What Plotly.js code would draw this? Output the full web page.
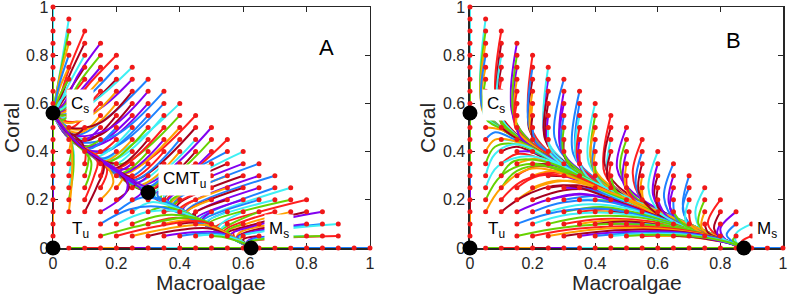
<!DOCTYPE html>
<html><head><meta charset="utf-8">
<script src="https://cdn.plot.ly/plotly-3.0.1.min.js"></script>
<style>html,body{margin:0;padding:0;background:#fff}#chart{width:789px;height:298px}</style>
</head><body><div id="chart"></div>
<script>
// Trajectories: [M0,C0, M1,C1, ..., Mend,Cend]
const trajA = [
[.05,.95,.025,.75,.006,.61,0,.56],
[.05,.9,.022,.72,.005,.6,0,.56],[.1,.9,.05,.74,.015,.6,0,.56],
[.05,.85,.02,.7,.005,.595,0,.56],[.1,.85,.05,.71,.015,.59,0,.56],[.15,.85,.08,.72,.03,.59,0,.56],
[.05,.8,.02,.68,.005,.59,0,.56],[.1,.8,.05,.68,.015,.585,0,.56],[.15,.8,.09,.7,.03,.58,0,.56],[.2,.8,.12,.69,.04,.57,0,.56],
[.05,.75,.02,.66,.005,.585,0,.56],[.1,.75,.05,.65,.015,.58,0,.56],[.15,.75,.085,.65,.03,.57,0,.56],[.2,.75,.12,.64,.04,.555,0,.56],[.25,.75,.15,.63,.05,.54,0,.56],
[.05,.7,.02,.63,.005,.58,0,.56],[.1,.7,.05,.62,.015,.575,0,.56],[.15,.7,.085,.61,.03,.56,0,.56],[.2,.7,.12,.6,.04,.54,0,.56],[.25,.7,.15,.58,.05,.52,0,.56],[.3,.7,.17,.54,.07,.47,0,.56],
[.05,.65,.02,.605,.005,.57,0,.56],[.1,.65,.05,.59,.015,.565,0,.56],[.15,.65,.085,.57,.03,.55,0,.56],[.2,.65,.12,.55,.04,.52,0,.56],[.25,.65,.15,.52,.05,.5,0,.56],[.3,.65,.17,.49,.06,.47,0,.56],[.35,.65,.2,.47,.08,.44,.03,.5,0,.56],
[.05,.6,.025,.575,.008,.565,0,.56],[.1,.6,.06,.56,.02,.55,0,.56],[.15,.6,.09,.53,.03,.53,0,.56],[.2,.6,.12,.5,.04,.5,0,.56],[.25,.6,.15,.47,.06,.46,0,.56],[.3,.6,.18,.45,.1,.42,.03,.5,0,.56],[.35,.6,.21,.43,.12,.4,.03,.5,0,.56],[.4,.6,.25,.43,.15,.37,.04,.48,0,.56],
[.05,.55,.03,.53,.01,.545,0,.56],[.1,.55,.06,.5,.02,.52,0,.56],[.15,.55,.09,.48,.03,.5,0,.56],[.2,.55,.12,.45,.05,.46,.015,.52,0,.56],[.25,.55,.14,.43,.08,.43,.02,.51,0,.56],[.3,.55,.17,.4,.1,.41,.03,.5,0,.56],[.35,.55,.2,.37,.12,.39,.03,.5,0,.56],[.4,.55,.22,.35,.13,.38,.03,.5,0,.56],[.45,.55,.25,.33,.15,.36,.04,.48,0,.56],
[.05,.5,.025,.51,.008,.54,0,.56],[.1,.5,.07,.47,.03,.49,0,.56],[.15,.5,.09,.44,.04,.47,0,.56],[.2,.5,.11,.41,.04,.47,0,.56],[.25,.5,.14,.38,.08,.43,.02,.51,0,.56],[.3,.5,.17,.355,.1,.41,.03,.5,0,.56],[.35,.5,.2,.33,.12,.39,.03,.5,0,.56],[.4,.5,.22,.305,.13,.38,.03,.5,0,.56],[.45,.5,.25,.28,.15,.36,.04,.48,0,.56],[.5,.5,.28,.26,.16,.35,.04,.48,0,.56],
[.05,.45,.05,.49,.02,.53,0,.56],[.1,.45,.07,.46,.03,.5,0,.56],[.15,.45,.1,.42,.04,.47,0,.56],[.2,.45,.13,.39,.05,.46,0,.56],[.25,.45,.16,.36,.08,.43,.02,.51,0,.56],[.3,.45,.19,.33,.1,.41,.03,.5,0,.56],[.35,.45,.22,.31,.12,.39,.03,.5,0,.56],[.4,.45,.25,.28,.14,.37,.04,.48,0,.56],[.45,.45,.27,.26,.16,.35,.04,.48,0,.56],[.5,.45,.3,.24,.18,.33,.05,.47,0,.56],[.55,.45,.32,.23,.2,.32,.05,.47,0,.56],
[.05,.4,.055,.47,.025,.52,0,.56],[.1,.4,.09,.44,.03,.5,0,.56],[.15,.4,.1,.41,.04,.47,0,.56],[.2,.4,.15,.37,.06,.45,0,.56],[.25,.4,.18,.34,.09,.42,.02,.51,0,.56],[.3,.4,.21,.31,.11,.4,.03,.5,0,.56],[.35,.4,.24,.285,.13,.38,.03,.5,0,.56],[.4,.4,.27,.26,.15,.36,.04,.48,0,.56],[.45,.4,.3,.24,.18,.33,.05,.47,0,.56],[.5,.4,.32,.23,.2,.32,.05,.47,0,.56],[.55,.4,.35,.22,.42,.15,.52,.07,.625,0],[.6,.4,.37,.21,.44,.13,.54,.06,.625,0],
[.05,.35,.06,.45,.03,.51,0,.56],[.1,.35,.1,.41,.04,.48,0,.56],[.15,.35,.14,.38,.05,.46,0,.56],[.2,.35,.16,.36,.06,.45,0,.56],[.25,.35,.2,.32,.1,.41,.03,.5,0,.56],[.3,.35,.23,.29,.12,.39,.03,.5,0,.56],[.35,.35,.26,.27,.14,.37,.04,.48,0,.56],[.4,.35,.29,.245,.17,.34,.05,.47,0,.56],[.45,.35,.31,.225,.4,.16,.52,.07,.625,0],[.5,.35,.33,.22,.42,.15,.53,.065,.625,0],[.55,.35,.35,.2,.43,.14,.53,.065,.625,0],[.6,.35,.36,.19,.44,.13,.54,.06,.625,0],[.65,.35,.38,.18,.45,.12,.54,.06,.625,0],
[.05,.3,.06,.42,.035,.5,0,.56],[.1,.3,.11,.39,.05,.46,0,.56],[.15,.3,.155,.36,.06,.45,0,.56],[.2,.3,.2,.32,.1,.41,.03,.5,0,.56],[.25,.3,.22,.3,.1,.41,.03,.5,0,.56],[.3,.3,.26,.27,.13,.38,.03,.5,0,.56],[.35,.3,.29,.25,.17,.34,.05,.47,0,.56],[.4,.3,.32,.22,.41,.155,.52,.07,.625,0],[.45,.3,.34,.21,.42,.15,.53,.065,.625,0],[.5,.3,.36,.2,.44,.13,.54,.06,.625,0],[.55,.3,.37,.18,.45,.12,.54,.06,.625,0],[.6,.3,.39,.17,.46,.115,.55,.055,.625,0],[.65,.3,.41,.16,.47,.11,.55,.055,.625,0],[.7,.3,.42,.15,.48,.1,.56,.05,.625,0],
[.05,.25,.065,.4,.04,.49,0,.56],[.1,.25,.12,.36,.06,.45,0,.56],[.15,.25,.17,.33,.1,.41,.03,.5,0,.56],[.2,.25,.22,.3,.11,.4,.03,.5,0,.56],[.25,.25,.26,.27,.13,.38,.03,.5,0,.56],[.3,.25,.29,.255,.15,.36,.04,.48,0,.56],[.35,.25,.33,.22,.42,.15,.53,.065,.625,0],[.4,.25,.35,.21,.43,.14,.53,.065,.625,0],[.45,.25,.37,.19,.44,.13,.54,.06,.625,0],[.5,.25,.38,.17,.45,.12,.54,.06,.625,0],[.55,.25,.4,.155,.46,.11,.55,.055,.625,0],[.6,.25,.42,.145,.47,.105,.55,.055,.625,0],[.65,.25,.44,.135,.48,.1,.56,.05,.625,0],[.7,.25,.46,.115,.49,.09,.56,.05,.625,0],[.75,.25,.47,.11,.5,.085,.56,.05,.625,0],
[.05,.2,.065,.35,.05,.47,0,.56],[.1,.2,.13,.3,.14,.36,.06,.455,0,.56],[.15,.2,.19,.27,.17,.34,.07,.44,0,.56],[.2,.2,.24,.25,.2,.32,.07,.44,0,.56],[.25,.2,.28,.235,.22,.3,.08,.43,0,.56],[.3,.2,.32,.21,.4,.16,.5,.085,.625,0],[.35,.2,.35,.19,.43,.14,.53,.065,.625,0],[.4,.2,.38,.175,.45,.12,.54,.06,.625,0],[.45,.2,.4,.16,.46,.11,.55,.055,.625,0],[.5,.2,.42,.145,.47,.105,.55,.055,.625,0],[.55,.2,.44,.135,.48,.095,.56,.05,.625,0],[.6,.2,.45,.12,.49,.09,.56,.05,.625,0],[.65,.2,.47,.11,.5,.085,.56,.05,.625,0],[.7,.2,.48,.105,.51,.08,.57,.04,.625,0],[.75,.2,.49,.1,.52,.075,.57,.04,.625,0],[.8,.2,.51,.085,.53,.07,.57,.04,.625,0],
[.05,.15,.06,.3,.055,.45,.03,.51,0,.56],[.1,.15,.14,.26,.16,.34,.07,.44,0,.56],[.15,.15,.23,.23,.23,.29,.08,.43,0,.56],[.2,.15,.28,.21,.36,.19,.48,.1,.625,0],[.25,.15,.31,.19,.4,.16,.5,.085,.625,0],[.3,.15,.35,.17,.43,.14,.53,.065,.625,0],[.35,.15,.4,.155,.46,.12,.54,.06,.625,0],[.4,.15,.43,.14,.48,.1,.55,.055,.625,0],[.45,.15,.45,.125,.5,.09,.56,.05,.625,0],[.5,.15,.47,.115,.51,.085,.57,.045,.625,0],[.55,.15,.49,.11,.52,.08,.57,.04,.625,0],[.6,.15,.53,.1,.52,.07,.57,.04,.625,0],[.65,.15,.57,.105,.53,.07,.58,.035,.625,0],[.7,.15,.6,.11,.54,.07,.58,.035,.625,0],[.75,.15,.62,.105,.545,.065,.585,.033,.625,0],[.8,.15,.64,.1,.55,.06,.59,.03,.625,0],[.85,.15,.66,.1,.56,.055,.59,.03,.625,0],
[.15,.1,.24,.16,.34,.17,.47,.1,.625,0],[.2,.1,.3,.15,.4,.15,.5,.09,.625,0],[.25,.1,.34,.135,.43,.13,.52,.08,.625,0],[.3,.1,.38,.125,.46,.11,.54,.06,.625,0],[.35,.1,.42,.115,.48,.1,.55,.055,.625,0],[.4,.1,.46,.105,.5,.09,.56,.05,.625,0],[.45,.1,.49,.095,.53,.07,.57,.04,.625,0],[.5,.1,.51,.085,.55,.06,.58,.035,.625,0],[.55,.1,.53,.075,.56,.05,.59,.03,.625,0],[.6,.1,.55,.07,.57,.045,.6,.025,.625,0],[.65,.1,.57,.065,.575,.04,.6,.02,.625,0],[.7,.1,.59,.065,.58,.04,.6,.02,.625,0],[.75,.1,.61,.066,.58,.042,.6,.02,.625,0],[.8,.1,.63,.067,.58,.044,.6,.022,.625,0],[.85,.1,.65,.068,.585,.045,.6,.022,.625,0],[.9,.1,.67,.07,.59,.046,.605,.022,.625,0],
[.15,.05,.3,.1,.45,.125,.55,.06,.625,0],[.2,.05,.33,.09,.47,.11,.56,.05,.625,0],[.25,.05,.36,.08,.48,.095,.57,.045,.625,0],[.3,.05,.4,.075,.5,.08,.57,.04,.625,0],[.35,.05,.44,.065,.52,.065,.58,.035,.625,0],[.4,.05,.47,.06,.54,.055,.59,.03,.625,0],[.45,.05,.5,.055,.56,.045,.6,.025,.625,0],[.5,.05,.54,.045,.58,.03,.61,.015,.625,0],[.55,.05,.57,.04,.6,.02,.625,0],[.6,.05,.59,.035,.61,.015,.625,0],[.65,.05,.6,.035,.61,.015,.625,0],[.7,.05,.62,.035,.61,.017,.625,0],[.75,.05,.63,.036,.61,.018,.625,0],[.8,.05,.65,.037,.61,.019,.625,0],[.85,.05,.67,.038,.61,.02,.625,0],[.9,.05,.7,.04,.61,.02,.625,0]
];
const trajB = [
[.05,.95,.04,.6,.1,.5,.35,.315,.875,0],
[.05,.9,.04,.59,.1,.5,.35,.313,.875,0],[.1,.9,.085,.6,.15,.47,.4,.28,.875,0],
[.05,.85,.04,.58,.1,.5,.35,.312,.875,0],[.1,.85,.09,.58,.15,.468,.4,.279,.875,0],[.15,.85,.135,.56,.2,.435,.45,.244,.875,0],
[.05,.8,.04,.58,.1,.498,.35,.312,.875,0],[.1,.8,.09,.57,.15,.466,.4,.278,.875,0],[.15,.8,.14,.55,.2,.432,.45,.243,.875,0],[.2,.8,.19,.52,.25,.4,.5,.208,.875,0],
[.05,.75,.04,.57,.1,.497,.35,.311,.875,0],[.1,.75,.09,.56,.15,.465,.4,.277,.875,0],[.15,.75,.14,.53,.2,.43,.45,.242,.875,0],[.2,.75,.19,.5,.25,.397,.5,.207,.875,0],[.25,.75,.24,.47,.3,.362,.55,.177,.875,0],
[.05,.7,.045,.57,.1,.496,.35,.311,.875,0],[.1,.7,.095,.55,.15,.464,.4,.277,.875,0],[.15,.7,.145,.52,.2,.43,.45,.242,.875,0],[.2,.7,.19,.49,.25,.395,.5,.207,.875,0],[.25,.7,.24,.46,.3,.36,.55,.177,.875,0],[.3,.7,.27,.46,.32,.355,.6,.147,.875,0],
[.05,.65,.045,.56,.1,.495,.35,.31,.875,0],[.1,.65,.095,.54,.15,.463,.4,.276,.875,0],[.15,.65,.145,.51,.2,.428,.45,.241,.875,0],[.2,.65,.195,.48,.25,.394,.5,.206,.875,0],[.25,.65,.24,.45,.3,.358,.55,.176,.875,0],[.3,.65,.29,.42,.35,.323,.6,.146,.875,0],[.35,.65,.33,.39,.4,.29,.65,.116,.875,0],
[.05,.6,.045,.55,.1,.494,.35,.31,.875,0],[.1,.6,.095,.53,.15,.462,.4,.276,.875,0],[.15,.6,.145,.5,.2,.427,.45,.241,.875,0],[.2,.6,.2,.47,.25,.393,.5,.206,.875,0],[.25,.6,.245,.44,.3,.357,.55,.176,.875,0],[.3,.6,.29,.41,.35,.322,.6,.146,.875,0],[.35,.6,.34,.38,.4,.288,.65,.116,.875,0],[.4,.6,.38,.35,.45,.253,.7,.091,.875,0],
[.05,.55,.055,.53,.1,.493,.35,.31,.875,0],[.1,.55,.1,.515,.15,.461,.4,.275,.875,0],[.15,.55,.15,.49,.2,.426,.45,.24,.875,0],[.2,.55,.2,.46,.25,.392,.5,.205,.875,0],[.25,.55,.25,.43,.3,.356,.55,.175,.875,0],[.3,.55,.295,.4,.35,.321,.6,.145,.875,0],[.35,.55,.34,.37,.4,.287,.65,.115,.875,0],[.4,.55,.39,.34,.45,.252,.7,.09,.875,0],[.45,.55,.43,.31,.5,.218,.75,.065,.875,0],
[.05,.5,.1,.49,.2,.415,.45,.238,.875,0],[.1,.5,.13,.47,.2,.418,.45,.239,.875,0],[.15,.5,.16,.46,.22,.4,.5,.205,.875,0],[.2,.5,.21,.44,.26,.39,.5,.206,.875,0],[.25,.5,.255,.42,.3,.355,.55,.175,.875,0],[.3,.5,.3,.39,.35,.32,.6,.145,.875,0],[.35,.5,.345,.36,.4,.286,.65,.115,.875,0],[.4,.5,.385,.38,.42,.29,.7,.09,.875,0],[.45,.5,.43,.35,.47,.26,.72,.08,.875,0],[.5,.5,.47,.33,.52,.23,.75,.065,.875,0],
[.05,.45,.08,.48,.15,.445,.45,.236,.875,0],[.1,.45,.15,.44,.25,.37,.5,.2,.875,0],[.15,.45,.2,.415,.3,.345,.55,.172,.875,0],[.2,.45,.22,.42,.3,.348,.6,.143,.875,0],[.25,.45,.26,.39,.32,.335,.6,.144,.875,0],[.3,.45,.305,.37,.36,.31,.65,.114,.875,0],[.35,.45,.35,.34,.4,.28,.65,.115,.875,0],[.4,.45,.395,.32,.44,.25,.7,.09,.875,0],[.45,.45,.44,.3,.49,.22,.72,.08,.875,0],[.5,.45,.48,.33,.52,.22,.75,.065,.875,0],[.55,.45,.52,.31,.55,.2,.77,.055,.875,0],
[.05,.4,.08,.45,.15,.44,.4,.265,.875,0],[.1,.4,.15,.42,.25,.365,.5,.198,.875,0],[.15,.4,.22,.395,.35,.3,.6,.138,.875,0],[.2,.4,.27,.36,.4,.265,.65,.108,.875,0],[.25,.4,.29,.35,.4,.268,.65,.11,.875,0],[.3,.4,.32,.34,.42,.258,.7,.087,.875,0],[.35,.4,.36,.32,.45,.24,.7,.088,.875,0],[.4,.4,.4,.3,.47,.23,.72,.08,.875,0],[.45,.4,.44,.29,.5,.21,.75,.065,.875,0],[.5,.4,.49,.27,.54,.19,.77,.055,.875,0],[.55,.4,.53,.26,.57,.17,.78,.05,.875,0],[.6,.4,.57,.25,.6,.16,.8,.04,.875,0],
[.05,.35,.08,.42,.15,.43,.4,.262,.875,0],[.1,.35,.15,.39,.25,.36,.5,.197,.875,0],[.15,.35,.22,.37,.35,.295,.6,.136,.875,0],[.2,.35,.28,.34,.4,.262,.65,.106,.875,0],[.25,.35,.32,.32,.45,.232,.7,.083,.875,0],[.3,.35,.36,.3,.5,.2,.7,.084,.875,0],[.35,.35,.38,.29,.5,.202,.72,.077,.875,0],[.4,.35,.41,.28,.52,.19,.75,.063,.875,0],[.45,.35,.45,.26,.55,.175,.75,.064,.875,0],[.5,.35,.5,.24,.57,.16,.77,.055,.875,0],[.55,.35,.54,.23,.6,.145,.8,.04,.875,0],[.6,.35,.585,.22,.63,.13,.8,.04,.875,0],[.65,.35,.62,.21,.66,.11,.81,.035,.875,0],
[.05,.3,.08,.39,.15,.43,.35,.3,.875,0],[.1,.3,.14,.36,.25,.355,.5,.195,.875,0],[.15,.3,.22,.34,.35,.29,.6,.135,.875,0],[.2,.3,.28,.32,.4,.258,.65,.105,.875,0],[.25,.3,.34,.29,.45,.228,.7,.082,.875,0],[.3,.3,.38,.265,.5,.196,.72,.075,.875,0],[.35,.3,.42,.25,.55,.168,.75,.062,.875,0],[.4,.3,.44,.24,.55,.17,.75,.062,.875,0],[.45,.3,.47,.23,.57,.16,.77,.054,.875,0],[.5,.3,.51,.215,.6,.145,.78,.05,.875,0],[.55,.3,.55,.2,.62,.13,.8,.04,.875,0],[.6,.3,.59,.21,.64,.125,.8,.04,.875,0],[.65,.3,.635,.19,.67,.11,.81,.035,.875,0],[.7,.3,.68,.18,.7,.1,.82,.03,.875,0],
[.05,.25,.09,.34,.2,.38,.45,.23,.875,0],[.1,.25,.15,.32,.25,.34,.5,.192,.875,0],[.15,.25,.22,.3,.35,.285,.6,.133,.875,0],[.2,.25,.28,.28,.4,.252,.65,.103,.875,0],[.25,.25,.34,.26,.45,.222,.7,.08,.875,0],[.3,.25,.4,.24,.5,.19,.72,.073,.875,0],[.35,.25,.44,.22,.55,.163,.75,.06,.875,0],[.4,.25,.47,.21,.58,.15,.77,.053,.875,0],[.45,.25,.5,.2,.6,.142,.78,.048,.875,0],[.5,.25,.53,.19,.62,.13,.8,.04,.875,0],[.55,.25,.56,.18,.64,.12,.8,.041,.875,0],[.6,.25,.6,.17,.66,.11,.81,.035,.875,0],[.65,.25,.64,.16,.68,.095,.82,.03,.875,0],[.7,.25,.68,.16,.71,.09,.82,.03,.875,0],[.75,.25,.72,.15,.74,.075,.83,.025,.875,0],
[.05,.2,.1,.3,.2,.35,.45,.225,.875,0],[.1,.2,.17,.28,.3,.31,.55,.16,.875,0],[.15,.2,.23,.26,.35,.275,.6,.13,.875,0],[.2,.2,.3,.24,.42,.235,.65,.1,.875,0],[.25,.2,.35,.225,.5,.185,.7,.078,.875,0],[.3,.2,.42,.215,.55,.165,.75,.06,.875,0],[.35,.2,.46,.195,.6,.135,.77,.052,.875,0],[.4,.2,.5,.18,.62,.125,.78,.047,.875,0],[.45,.2,.54,.165,.65,.108,.8,.038,.875,0],[.5,.2,.58,.15,.68,.092,.81,.033,.875,0],[.55,.2,.6,.14,.7,.085,.82,.03,.875,0],[.6,.2,.63,.13,.72,.075,.83,.025,.875,0],[.65,.2,.66,.12,.74,.065,.83,.024,.875,0],[.7,.2,.69,.11,.76,.055,.84,.018,.875,0],[.75,.2,.73,.1,.78,.045,.85,.012,.875,0],[.8,.2,.76,.1,.8,.04,.85,.012,.875,0],
[.05,.15,.1,.25,.2,.33,.45,.23,.875,0],[.1,.15,.18,.22,.3,.26,.55,.155,.875,0],[.15,.15,.25,.2,.38,.22,.6,.128,.875,0],[.2,.15,.3,.19,.45,.19,.65,.1,.875,0],[.25,.15,.36,.18,.5,.165,.7,.077,.875,0],[.3,.15,.42,.17,.55,.14,.72,.07,.875,0],[.35,.15,.46,.16,.58,.125,.75,.058,.875,0],[.4,.15,.5,.15,.62,.11,.77,.05,.875,0],[.45,.15,.55,.14,.65,.095,.78,.045,.875,0],[.5,.15,.58,.13,.68,.085,.8,.037,.875,0],[.55,.15,.62,.12,.7,.075,.81,.032,.875,0],[.6,.15,.65,.11,.72,.07,.82,.028,.875,0],[.65,.15,.68,.1,.75,.06,.83,.022,.875,0],[.7,.15,.71,.09,.77,.05,.84,.018,.875,0],[.75,.15,.74,.085,.79,.04,.85,.012,.875,0],[.8,.15,.78,.08,.81,.035,.86,.01,.875,0],[.85,.15,.8,.08,.82,.03,.86,.008,.875,0],
[.15,.1,.28,.15,.45,.16,.7,.075,.875,0],[.2,.1,.32,.14,.5,.14,.72,.068,.875,0],[.25,.1,.37,.13,.55,.125,.74,.06,.875,0],[.3,.1,.42,.12,.58,.11,.76,.052,.875,0],[.35,.1,.46,.115,.62,.095,.78,.045,.875,0],[.4,.1,.5,.11,.65,.085,.8,.038,.875,0],[.45,.1,.55,.1,.68,.075,.81,.033,.875,0],[.5,.1,.6,.095,.7,.07,.82,.028,.875,0],[.55,.1,.64,.085,.72,.06,.83,.024,.875,0],[.6,.1,.67,.08,.74,.055,.835,.02,.875,0],[.65,.1,.7,.075,.76,.048,.84,.017,.875,0],[.7,.1,.73,.07,.78,.04,.845,.014,.875,0],[.75,.1,.76,.065,.8,.035,.85,.012,.875,0],[.8,.1,.79,.06,.82,.03,.855,.01,.875,0],[.85,.1,.82,.055,.84,.025,.86,.008,.875,0],[.9,.1,.85,.06,.85,.025,.865,.008,.875,0],
[.15,.05,.3,.085,.5,.1,.7,.075,.875,0],[.2,.05,.34,.08,.53,.09,.72,.065,.875,0],[.25,.05,.38,.075,.56,.083,.74,.057,.875,0],[.3,.05,.43,.07,.6,.075,.76,.05,.875,0],[.35,.05,.47,.065,.63,.068,.78,.043,.875,0],[.4,.05,.51,.06,.66,.062,.8,.036,.875,0],[.45,.05,.55,.058,.69,.055,.81,.03,.875,0],[.5,.05,.59,.055,.72,.048,.82,.026,.875,0],[.55,.05,.63,.052,.74,.042,.83,.022,.875,0],[.6,.05,.67,.05,.76,.036,.84,.018,.875,0],[.65,.05,.71,.047,.78,.032,.85,.014,.875,0],[.7,.05,.75,.043,.8,.028,.855,.011,.875,0],[.75,.05,.78,.04,.82,.024,.86,.009,.875,0],[.8,.05,.81,.037,.84,.02,.865,.007,.875,0],[.85,.05,.84,.033,.855,.016,.87,.005,.875,0],[.9,.05,.87,.03,.865,.013,.872,.004,.875,0]
];
// start points lying on the two axes
const axisStarts = [0,.05,.1,.15,.2,.25,.3,.35,.4,.45,.5,.55,.6,.65,.7,.75,.8,.85,.9,.95,1];
// equilibria: C_s, T_u, (CMT_u), M_s
const eqA_m = [0, 0, .3, .625], eqA_c = [.56, 0, .23, 0];
const eqB_m = [0, 0, .875], eqB_c = [.56, 0, 0];
const tickVals = [0, .2, .4, .6, .8, 1];
const palette = ['#ff1f1f','#ffa000','#a5001f','#8200f0','#1e82ff','#3ef0f4','#66d200'];

const FONT = 'Liberation Sans, Arial, Helvetica, sans-serif';
const traces = [];
const BLOCK = 21;
function panel(traj, csLevel, msLevel, eqM, eqC, xa, ya) {
  const all = [];
  axisStarts.forEach(v => { if (v > 0 && v !== csLevel) all.push([0, v, 0, csLevel]); });
  axisStarts.forEach(v => { if (v > 0 && v !== msLevel) all.push([v, 0, msLevel, 0]); });
  traj.forEach(t => all.push(t));
  for (let b = 0; b < all.length; b += BLOCK) {
    const groups = palette.map(() => ({x: [], y: []}));
    for (let i = b; i < Math.min(b + BLOCK, all.length); i++) {
      const t = all[i], g = groups[i % palette.length];
      for (let k = 0; k < t.length; k += 2) { g.x.push(t[k]); g.y.push(t[k + 1]); }
      g.x.push(null); g.y.push(null);
    }
    groups.forEach((g, j) => { if (g.x.length) traces.push({type: 'scatter', mode: 'lines', x: g.x, y: g.y, xaxis: xa, yaxis: ya,
      line: {color: palette[j], width: 2, shape: 'spline', smoothing: 1}, hoverinfo: 'skip', showlegend: false, cliponaxis: false}); });
  }
  const sx = [0], sy = [0];
  all.forEach(t => { sx.push(t[0]); sy.push(t[1]); });
  traces.push({type: 'scatter', mode: 'markers', x: sx, y: sy, xaxis: xa, yaxis: ya,
    marker: {size: 5, color: '#f01818'}, hoverinfo: 'skip', showlegend: false, cliponaxis: false});
  traces.push({type: 'scatter', mode: 'markers', x: eqM, y: eqC, xaxis: xa, yaxis: ya,
    marker: {size: 15, color: '#000'}, hoverinfo: 'skip', showlegend: false, cliponaxis: false});
}
panel(trajA, eqA_c[0], eqA_m[3], eqA_m, eqA_c, 'x', 'y');
panel(trajB, eqB_c[0], eqB_m[2], eqB_m, eqB_c, 'x2', 'y2');

function ax(domain, anchor) {
  return {domain: domain, anchor: anchor, range: [0, 1], tickvals: tickVals, ticks: 'inside', ticklen: 5, tickwidth: 1.2,
    tickcolor: '#262626', showline: true, linecolor: '#262626', linewidth: 1.5, mirror: 'ticks', showgrid: false,
    zeroline: false, layer: 'below traces', ticklabeloverflow: 'allow',
    tickfont: {family: FONT, size: 16, color: '#262626'}, fixedrange: true};
}
function lab(xr, yr, x, y, text, size, bg) {
  return {xref: xr, yref: yr, x: x, y: y, xanchor: 'center', yanchor: 'middle', text: text, showarrow: false,
    bgcolor: bg ? '#fff' : 'rgba(0,0,0,0)', borderpad: 4, font: {family: FONT, size: size, color: '#000'}};
}
function title(x, y, text, angle) {
  return {xref: 'paper', yref: 'paper', x: x, y: y, xanchor: 'center', yanchor: 'middle', text: text, textangle: angle,
    showarrow: false, font: {family: FONT, size: 21, color: '#262626'}};
}
const layout = {
  width: 789, height: 298, margin: {l: 53, r: 6, t: 7, b: 50}, paper_bgcolor: '#fff', plot_bgcolor: '#fff',
  xaxis: ax([0, 0.4342], 'y'), yaxis: ax([0, 1], 'x'),
  xaxis2: ax([0.5712, 1], 'y2'), yaxis2: ax([0, 1], 'x2'),
  annotations: [
    lab('x', 'y', .085, .593, 'C<sub>s</sub>', 17, true),
    lab('x', 'y', .088, .076, 'T<sub>u</sub>', 17, true),
    lab('x', 'y', .416, .283, 'CMT<sub>u</sub>', 17, true),
    lab('x', 'y', .713, .076, 'M<sub>s</sub>', 17, true),
    lab('x', 'y', .864, .833, 'A', 22, false),
    lab('x2', 'y2', .083, .593, 'C<sub>s</sub>', 17, true),
    lab('x2', 'y2', .086, .076, 'T<sub>u</sub>', 17, true),
    lab('x2', 'y2', .949, .076, 'M<sub>s</sub>', 17, true),
    lab('x2', 'y2', .843, .862, 'B', 22, false),
    title(-0.0562, 0.498, 'Coral', -90),
    title(0.5137, 0.498, 'Coral', -90),
    title(0.2164, -0.145, 'Macroalgae', 0),
    title(0.786, -0.145, 'Macroalgae', 0)
  ]
};
Plotly.newPlot('chart', traces, layout, {staticPlot: true, displayModeBar: false});
</script></body></html>
